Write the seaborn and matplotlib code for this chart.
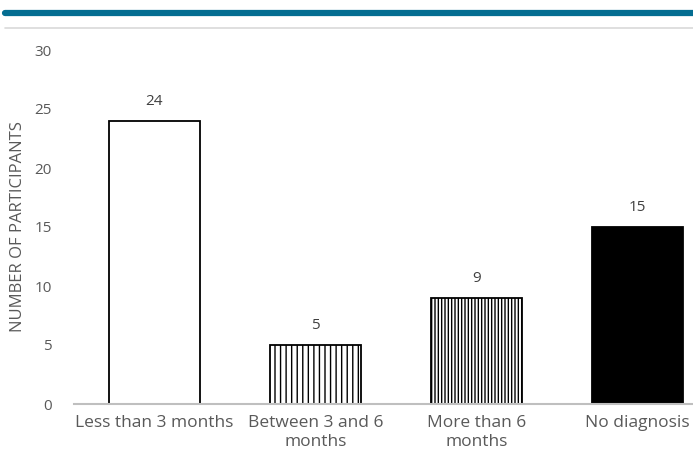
import pandas as pd
import matplotlib.pyplot as plt
import seaborn as sns
from matplotlib.lines import Line2D

# data
categories = ["Less than 3 months", "Between 3 and 6\nmonths", "More than 6\nmonths", "No diagnosis"]
participants = [24, 5, 9, 15]
hatches = ["", "|||", "|||||", ""]
fills = ["white", "white", "white", "black"]

df = pd.DataFrame({"category": categories, "participants": participants})

sns.set_style("white")
plt.rcParams["font.family"] = ["Open Sans", "DejaVu Sans"]
plt.rcParams["hatch.linewidth"] = 1.0

fig = plt.figure(figsize=(6.93, 4.70), dpi=100)
ax = fig.add_axes([74 / 693, 66 / 470, 619 / 693, 354 / 470])

sns.barplot(data=df, x="category", y="participants", ax=ax,
            color="white", width=0.56, edgecolor="black", linewidth=1.3)

for bar, h, f in zip(ax.patches, hatches, fills):
    bar.set_facecolor(f)
    bar.set_hatch(h)

# value labels above the bars
for bar, v in zip(ax.patches, participants):
    ax.text(bar.get_x() + bar.get_width() / 2, v + 1.0, str(v),
            ha="center", va="bottom", fontsize=11, color="#404040")

ax.set_ylim(0, 30)
ax.set_xlim(-0.5, 3.345)
ax.set_yticks(range(0, 31, 5))
ax.set_xlabel("")
ax.set_ylabel("NUMBER OF PARTICIPANTS", fontsize=12, color="#595959", labelpad=6)
ax.tick_params(axis="both", length=0, colors="#595959")
ax.tick_params(axis="y", pad=16, labelsize=11)
ax.tick_params(axis="x", pad=8, labelsize=12.5)
for lbl in ax.get_xticklabels():
    lbl.set_linespacing(1.2)

sns.despine(ax=ax, left=True, right=True, top=True)
ax.spines["bottom"].set_color("#bfbfbf")
ax.spines["bottom"].set_linewidth(1.5)

# header band and thin rule across the top
fig.add_artist(Line2D([5 / 693, 1], [1 - 13 / 470] * 2, color="#046d91", linewidth=4.5))
fig.add_artist(Line2D([5 / 693, 1], [1 - 27.5 / 470] * 2, color="#d9d9d9", linewidth=1.2))

fig.savefig("out.png", dpi=100)
